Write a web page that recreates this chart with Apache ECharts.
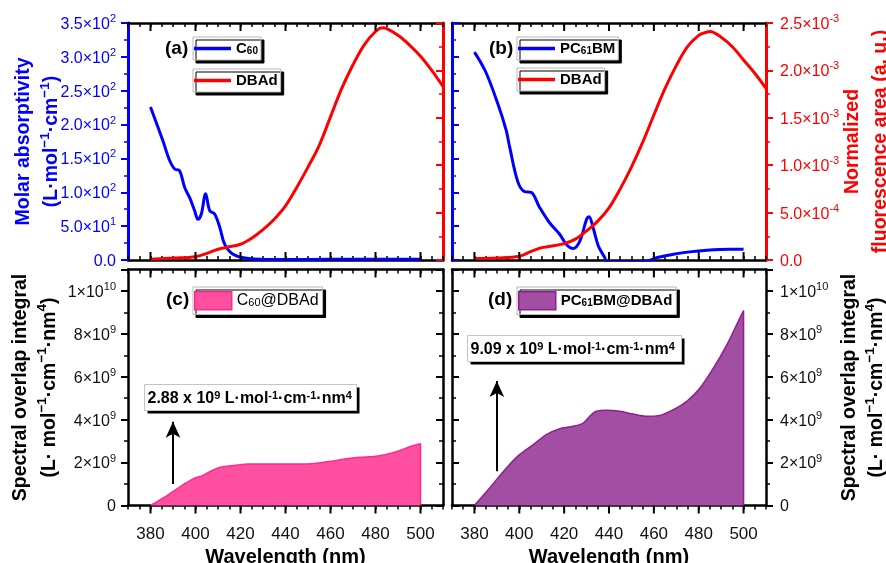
<!DOCTYPE html>
<html><head><meta charset="utf-8">
<script src="https://cdn.jsdelivr.net/npm/echarts@6/dist/echarts.min.js"></script>
<style>html,body{margin:0;padding:0;background:#fff}#c{width:886px;height:563px}</style>
</head><body><div id="c"></div>
<script>
// ---------- data ----------
const wavelengthTicks = [380, 400, 420, 440, 460, 480, 500];

const wlC60 = [380, 385.5, 388.5, 390.7, 392.9, 395.2, 397.4, 399.6, 401.1, 402.6, 404.5, 406.3, 408.5, 410.8, 413, 416.7, 422.7, 431.6, 440, 460, 480, 500];
const c60   = [226, 176, 147, 134.5, 132, 107, 92, 73, 60, 68, 98, 73, 68, 48, 23, 8.4, 2.5, 0.8, 0.8, 1, 1, 1];

const wlPC = [380, 385, 390.4, 394.2, 395.7, 399.4, 402.4, 405.3, 409, 413.5, 418, 421, 424, 427, 430, 431.1, 432.9, 435.2, 438.1, 439, 455, 462, 468.7, 476, 483.6, 494, 500];
const pc61bm = [307, 278, 231, 191, 167, 115, 101, 100, 78, 55, 38, 23, 17, 28, 60, 64, 48, 21, 3.5, -3, -3, 4, 8.4, 12, 14.4, 15.8, 15.8];

const wlDBAd = [380, 390, 400, 405, 410, 413, 420, 425, 430, 435, 440, 445, 450, 455, 460, 465, 470, 475, 480, 483, 485, 490, 495, 500, 505, 510];
const dbadA = [7e-6, 2e-5, 3.5e-5, 7e-5, 1.13e-4, 1.3e-4, 1.66e-4, 2.3e-4, 3.2e-4, 4.3e-4, 5.7e-4, 7.66e-4, 9.8e-4, 1.21e-3, 1.51e-3, 1.81e-3, 2.06e-3, 2.27e-3, 2.41e-3, 2.45e-3, 2.44e-3, 2.37e-3, 2.27e-3, 2.15e-3, 2.0e-3, 1.83e-3];
const dbadB = [1.5e-5, 2.2e-5, 4e-5, 8.8e-5, 1.3e-4, 1.42e-4, 1.73e-4, 2.2e-4, 3.07e-4, 4.1e-4, 5.5e-4, 7.5e-4, 9.8e-4, 1.24e-3, 1.53e-3, 1.81e-3, 2.05e-3, 2.25e-3, 2.37e-3, 2.40e-3, 2.41e-3, 2.35e-3, 2.25e-3, 2.11e-3, 1.97e-3, 1.81e-3];

const wlJC = [380, 385.5, 390, 394.4, 398.9, 403.3, 406.3, 410.8, 416.7, 424.2, 431.6, 446.5, 453.9, 461.3, 468.8, 473.2, 479.2, 483.6, 489.6, 495.5, 500, 500];
const jC60 = [0, 0.34e9, 0.65e9, 0.96e9, 1.24e9, 1.40e9, 1.58e9, 1.77e9, 1.86e9, 1.93e9, 1.93e9, 1.93e9, 1.97e9, 2.08e9, 2.2e9, 2.25e9, 2.28e9, 2.36e9, 2.52e9, 2.75e9, 2.88e9, 0];

const wlJD = [380, 386.7, 394.2, 400.1, 406.1, 412.1, 418, 424, 428.5, 431.4, 434.4, 438.9, 444.8, 450.8, 456.8, 462.7, 468.7, 474.7, 480.6, 486.6, 492.6, 497, 500, 500];
const jPC = [0, 0.81e9, 1.74e9, 2.37e9, 2.83e9, 3.30e9, 3.58e9, 3.69e9, 3.84e9, 4.16e9, 4.39e9, 4.44e9, 4.39e9, 4.26e9, 4.16e9, 4.2e9, 4.47e9, 4.86e9, 5.48e9, 6.41e9, 7.5e9, 8.44e9, 9.09e9, 0];

const arrowC = [390, 1.0e9, 3.9e9];
const arrowD = [390, 1.6e9, 5.8e9];

// ---------- styling ----------
const FONT = '"Liberation Sans", Arial, Helvetica, sans-serif';
const BLUE = '#0000ff', RED = '#ff0000', BLACK = '#000000';
const PINK = '#ff4fa0', PINK_B = '#ff2a8e', PURPLE = '#a24ea2', PURPLE_B = '#8e1f8e';

const grids = [
  {left: 128, top: 23, width: 315, height: 237},
  {left: 452, top: 23, width: 314, height: 237},
  {left: 128, top: 269.5, width: 315, height: 236},
  {left: 452, top: 269.5, width: 314, height: 236}
];
const X_MIN = 370, X_MAX = 510;

function pair(xs, ys) { return xs.map((x, i) => [x, ys[i]]); }
function expStr(e) { return e < 0 ? '-' + (-e) : String(e); }
function fmt1(v) {
  if (Math.abs(v) < 1e-12) return '{m|0.0}';
  const e = Math.floor(Math.log10(v) + 1e-9);
  const m = v / Math.pow(10, e);
  return '{m|' + m.toFixed(1) + '×10}{s|' + expStr(e) + '}';
}
function fmt0(v) {
  if (v === 0) return '{m|0}';
  if (Math.abs(v / 2e9 - Math.round(v / 2e9)) > 1e-6) return '';
  const e = Math.floor(Math.log10(v) + 1e-9);
  const m = Math.round(v / Math.pow(10, e));
  return '{m|' + m + '×10}{s|' + e + '}';
}
function fmtX(v) { return wavelengthTicks.indexOf(Math.round(v)) >= 0 && Math.abs(v - Math.round(v)) < 1e-6 ? String(Math.round(v)) : ''; }
function labRich(size, color) {
  return {
    m: {fontSize: size, color: color, fontFamily: FONT, padding: [3, 0, 0, 0]},
    s: {fontSize: Math.round(size * 0.66), color: color, fontFamily: FONT, verticalAlign: 'top'}
  };
}
function nameRich(color, lh) {
  return {
    t: {fontSize: 19.5, fontWeight: 'bold', color: color, fontFamily: FONT, lineHeight: lh},
    p: {fontSize: 13.5, fontWeight: 'bold', color: color, fontFamily: FONT, verticalAlign: 'top', lineHeight: lh}
  };
}

// x axes: 2 per grid (bottom, top); major ticks drawn by a custom series on the same scales
const xAxes = [];
grids.forEach((g, gi) => {
  const lower = gi >= 2;
  xAxes.push({
    type: 'value', gridIndex: gi, min: X_MIN, max: X_MAX, position: 'bottom', interval: 5,
    splitLine: {show: false},
    axisLine: {show: true, onZero: false, lineStyle: {color: BLACK, width: 2.5}},
    axisTick: {show: true, inside: !lower, length: 4, lineStyle: {color: BLACK, width: 1.5}},
    axisLabel: {show: lower, formatter: fmtX, margin: 20, fontSize: 17, color: '#111', fontFamily: FONT, hideOverlap: false},
    name: lower ? 'Wavelength (nm)' : '',
    nameLocation: 'middle', nameGap: 42, nameMoveOverlap: false,
    nameTextStyle: {fontSize: 20, fontWeight: 'bold', color: BLACK, fontFamily: FONT}
  });
  xAxes.push({
    type: 'value', gridIndex: gi, min: X_MIN, max: X_MAX, position: 'top', interval: 5,
    splitLine: {show: false},
    axisLine: {show: true, onZero: false, lineStyle: {color: BLACK, width: 2.5}},
    axisTick: {show: true, inside: true, length: 4, lineStyle: {color: BLACK, width: 1.5}},
    axisLabel: {show: false}
  });
});

function yAx(o) {
  return {
    type: 'value', gridIndex: o.g, position: o.pos, min: o.min, max: o.max, interval: o.interval,
    axisLine: {show: true, onZero: false, lineStyle: {color: o.color, width: o.lw || 2.5}},
    axisTick: {show: true, inside: o.inside, length: 7, lineStyle: {color: o.color, width: 2}},
    minorTick: {show: true, splitNumber: 2, length: 4, lineStyle: {color: o.color, width: 1.5}},
    splitLine: {show: false},
    axisLabel: o.label ? {show: true, margin: o.margin, formatter: o.fmt, rich: labRich(o.fs, o.labelColor)} : {show: false},
    name: o.name || '', nameLocation: 'middle', nameGap: o.nameGap || 0, nameMoveOverlap: false,
    nameTextStyle: o.name ? {rich: nameRich(o.nameColor, o.lh), align: 'center'} : {}
  };
}

const nameA = '{t|Molar absorptivity}\n{t|(L·mol}{p|−1}{t|·cm}{p|−1}{t|)}';
const nameB = '{t|Normalized}\n{t|fluorescence area (a. u.)}';
const nameC = '{t|Spectral overlap integral}\n{t|(L· mol}{p|−1}{t|·cm}{p|−1}{t|·nm}{p|4}{t|)}';

const yAxes = [
  yAx({g: 0, pos: 'left', min: 0, max: 350, interval: 50, color: BLUE, lw: 3, inside: false, label: true, margin: 12, fmt: fmt1, fs: 16, labelColor: BLUE, name: nameA, nameGap: 62, nameColor: BLUE, lh: 28}),
  yAx({g: 0, pos: 'right', min: 0, max: 0.0025, interval: 0.0005, color: RED, lw: 3, inside: true, label: false}),
  yAx({g: 1, pos: 'left', min: 0, max: 350, interval: 50, color: BLUE, lw: 3, inside: true, label: false}),
  yAx({g: 1, pos: 'right', min: 0, max: 0.0025, interval: 0.0005, color: RED, lw: 3, inside: false, label: true, margin: 14, fmt: fmt1, fs: 16, labelColor: RED, name: nameB, nameGap: 73, nameColor: RED, lh: 28}),
  yAx({g: 2, pos: 'left', min: 0, max: 1.1e10, interval: 2e9, color: BLACK, inside: false, label: true, margin: 12, fmt: fmt0, fs: 16, labelColor: '#111', name: nameC, nameGap: 64, nameColor: BLACK, lh: 29}),
  yAx({g: 2, pos: 'right', min: 0, max: 1.1e10, interval: 2e9, color: BLACK, inside: true, label: false}),
  yAx({g: 3, pos: 'left', min: 0, max: 1.1e10, interval: 2e9, color: BLACK, inside: true, label: false}),
  yAx({g: 3, pos: 'right', min: 0, max: 1.1e10, interval: 2e9, color: BLACK, inside: false, label: true, margin: 14, fmt: fmt0, fs: 16, labelColor: '#111', name: nameC, nameGap: 70, nameColor: BLACK, lh: 27})
];

function lineSeries(name, gi, yi, xs, ys, color) {
  return {
    type: 'line', name: name, xAxisIndex: 2 * gi, yAxisIndex: yi, data: pair(xs, ys),
    symbol: 'none', smooth: 0.35, clip: true,
    lineStyle: {color: color, width: 3}, itemStyle: {color: color}, z: 3
  };
}
function areaSeries(name, gi, yi, xs, ys, fill, border, arrow) {
  return {
    type: 'line', name: name, xAxisIndex: 2 * gi, yAxisIndex: yi, data: pair(xs, ys),
    symbol: 'none', smooth: 0.3,
    lineStyle: {color: border, width: 1.5}, itemStyle: {color: fill},
    areaStyle: {color: fill, opacity: 1},
    markLine: {
      silent: true, symbol: ['none', 'arrow'], symbolSize: [11, 16], animation: false,
      lineStyle: {color: BLACK, width: 2, type: 'solid'}, label: {show: false},
      data: [[{coord: [arrow[0], arrow[1]]}, {coord: [arrow[0], arrow[2]]}]]
    }
  };
}
// major wavelength ticks (every 20 nm) on bottom and top edges, positioned by the axis scale
function majorTicks(gi, yi, yMin, yMax, bottomOutward) {
  return {
    type: 'custom', xAxisIndex: 2 * gi, yAxisIndex: yi, data: [[440, yMin]], clip: false, silent: true, z: 5,
    renderItem: function (params, api) {
      const children = [];
      wavelengthTicks.forEach(function (v) {
        const pb = api.coord([v, yMin]);
        const pt = api.coord([v, yMax]);
        const d = bottomOutward ? 8 : -8;
        children.push({type: 'line', shape: {x1: pb[0], y1: pb[1], x2: pb[0], y2: pb[1] + d}, style: {stroke: BLACK, lineWidth: 2}});
        children.push({type: 'line', shape: {x1: pt[0], y1: pt[1], x2: pt[0], y2: pt[1] + 8}, style: {stroke: BLACK, lineWidth: 2}});
      });
      return {type: 'group', children: children};
    }
  };
}

const series = [
  lineSeries('C60', 0, 0, wlC60, c60, BLUE),
  lineSeries('DBAd', 0, 1, wlDBAd, dbadA, RED),
  lineSeries('PC61BM', 1, 2, wlPC, pc61bm, BLUE),
  lineSeries('DBAd', 1, 3, wlDBAd, dbadB, RED),
  areaSeries('C60@DBAd', 2, 4, wlJC, jC60, PINK, PINK_B, arrowC),
  areaSeries('PC61BM@DBAd', 3, 6, wlJD, jPC, PURPLE, PURPLE_B, arrowD),
  majorTicks(0, 0, 0, 350, false),
  majorTicks(1, 2, 0, 350, false),
  majorTicks(2, 4, 0, 1.1e10, true),
  majorTicks(3, 6, 0, 1.1e10, true)
];

const legendNames = {
  'C60': '{b|C}{sub|60}',
  'DBAd': '{b|DBAd}',
  'PC61BM': '{b|PC}{sub|61}{b|BM}',
  'C60@DBAd': '{n|C}{nsub|60}{n|@DBAd}',
  'PC61BM@DBAd': '{b|PC}{sub|61}{b|BM@DBAd}'
};
const legendRich = {
  b: {fontSize: 15, fontWeight: 'bold', color: BLACK, fontFamily: FONT},
  sub: {fontSize: 10, fontWeight: 'bold', color: BLACK, fontFamily: FONT, verticalAlign: 'bottom'},
  n: {fontSize: 16, color: BLACK, fontFamily: FONT},
  nsub: {fontSize: 11, color: BLACK, fontFamily: FONT, verticalAlign: 'bottom'}
};
function legend(data, left, top, iw, ih, pad) {
  return {
    data: data, left: left, top: top, orient: 'horizontal', itemWidth: iw, itemHeight: ih, itemGap: 0,
    padding: pad, backgroundColor: '#fff', borderColor: '#b8b8b8', borderWidth: 1,
    shadowColor: '#000', shadowOffsetX: 3, shadowOffsetY: 3, shadowBlur: 0,
    selectedMode: false, formatter: n => legendNames[n],
    textStyle: {rich: legendRich, fontFamily: FONT}
  };
}
function lineItem(name, color) { return {name: name, icon: 'rect', itemStyle: {color: color, borderWidth: 0}}; }
const legends = [
  legend([lineItem('C60', BLUE)], 193, 37, 37, 3.5, [4, 3, 4, 1]),
  legend([lineItem('DBAd', RED)], 193, 69, 37, 3.5, [4, 3, 4, 1]),
  legend([lineItem('PC61BM', BLUE)], 517, 37, 37, 3.5, [4, 3, 4, 1]),
  legend([lineItem('DBAd', RED)], 517, 68, 37, 3.5, [4, 3, 4, 1]),
  legend([{name: 'C60@DBAd', icon: 'rect', itemStyle: {color: PINK, borderColor: PINK_B, borderWidth: 1.5}}], 193, 287, 37, 18, [4, 4, 4, 1]),
  legend([{name: 'PC61BM@DBAd', icon: 'rect', itemStyle: {color: PURPLE, borderColor: PURPLE_B, borderWidth: 1.5}}], 517, 287, 37, 18, [4, 4, 4, 1])
];

const annRich = {
  b: {fontSize: 16, fontWeight: 'bold', color: BLACK, fontFamily: FONT},
  p: {fontSize: 11, fontWeight: 'bold', color: BLACK, fontFamily: FONT, verticalAlign: 'top'}
};
function annotation(left, top, w, h, text) {
  return {
    type: 'group', left: left, top: top, z: 10,
    children: [
      {type: 'rect', shape: {x: 3, y: 3, width: w, height: h}, style: {fill: '#000'}},
      {type: 'rect', shape: {x: 0, y: 0, width: w, height: h}, style: {fill: '#fff', stroke: '#c4c4c4', lineWidth: 1}},
      {type: 'text', x: 3, y: h / 2 + 1, style: {text: text, rich: annRich, align: 'left', verticalAlign: 'middle', textAlign: 'left', textVerticalAlign: 'middle'}}
    ]
  };
}
function panelLabel(text, x, y) {
  return {type: 'text', left: x, top: y, z: 10, style: {text: text, fontSize: 19, fontWeight: 'bold', fill: BLACK, font: 'bold 19px ' + FONT}};
}

const graphic = [
  panelLabel('(a)', 165, 39),
  panelLabel('(b)', 489, 39),
  panelLabel('(c)', 166, 290),
  panelLabel('(d)', 488, 290),
  annotation(144, 384, 212, 26, '{b|2.88 x 10}{p|9}{b| L·mol}{p|-1}{b|·cm}{p|-1}{b|·nm}{p|4}'),
  annotation(467, 335, 214, 26, '{b|9.09 x 10}{p|9}{b| L·mol}{p|-1}{b|·cm}{p|-1}{b|·nm}{p|4}')
];

const chart = echarts.init(document.getElementById('c'), null, {renderer: 'canvas'});
chart.setOption({
  animation: false,
  backgroundColor: '#fff',
  textStyle: {fontFamily: FONT},
  grid: grids.map(g => Object.assign({containLabel: false, outerBoundsMode: 'none'}, g)),
  xAxis: xAxes,
  yAxis: yAxes,
  legend: legends,
  series: series,
  graphic: graphic
});
</script>
</body></html>
